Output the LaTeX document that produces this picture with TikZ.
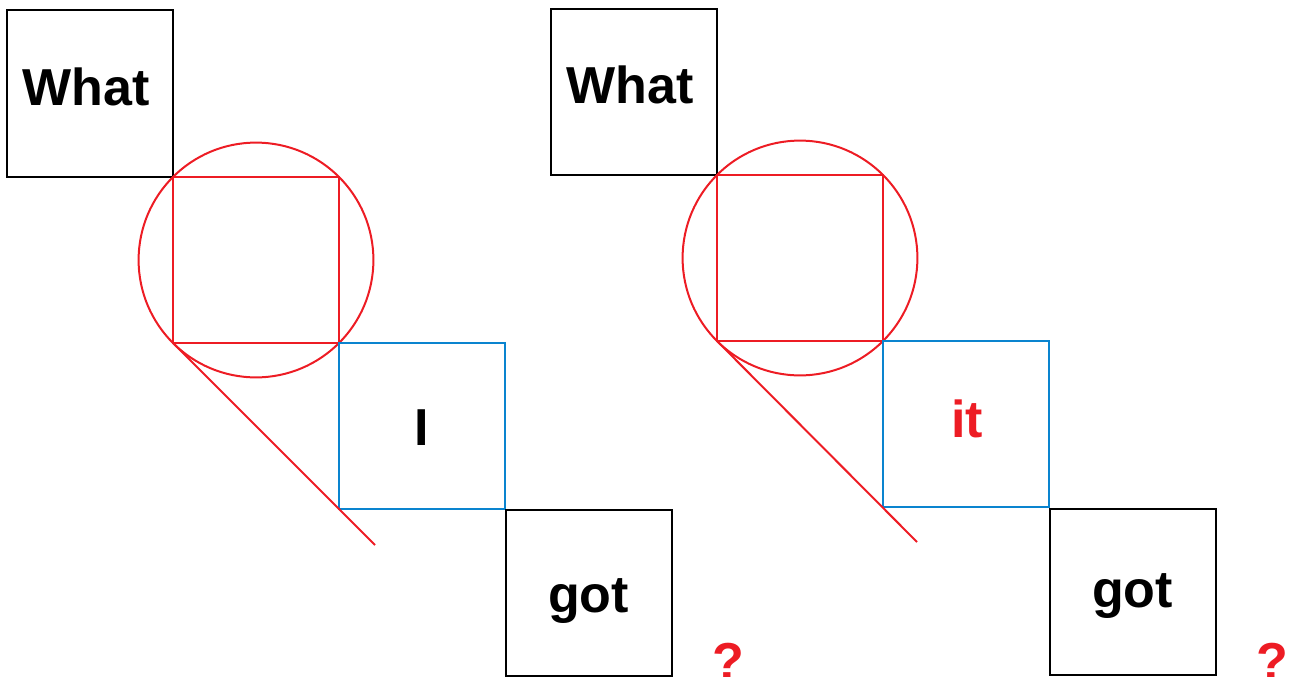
\documentclass[tikz,border=0pt]{standalone}
\usepackage{fontspec}
\setmainfont{Liberation Sans}
\definecolor{markred}{RGB}{237,28,36}
\definecolor{slotblue}{RGB}{10,132,207}
\begin{document}
\begin{tikzpicture}[x=1pt,y=-1pt,
    word/.style={font=\bfseries\fontsize{52}{52}\selectfont,inner sep=0pt,anchor=base},
    wordbox/.style={draw,line width=2pt,minimum size=166pt,inner sep=0pt,outer sep=0pt},
    gapbox/.style={wordbox,draw=markred},
    slotbox/.style={wordbox,draw=slotblue},
    ring/.style={circle,draw=markred,line width=2pt,minimum size=234.8pt,inner sep=0pt,outer sep=0pt},
    redline/.style={markred,line width=2pt}]
  \useasboundingbox (0,0) rectangle (1301,677);
  \node[wordbox] (what1) at (89.5,93.5) {};
  \node[word] (whatw1) at (86,106) {What};
  \node[gapbox] (gap1) at (256,260) {};
  \node[ring] (ring1) at (gap1) {};
  \node[slotbox] (slot1) at (422,426) {};
  \node[word] (slotw1) at (422,445) {I};
  \node[wordbox] (got1) at (589,593) {};
  \node[word] (gotw1) at (588.5,612) {got};
  \coordinate (tail1) at (375,545);
  \draw[redline] (gap1.south west) -- (tail1);
  \node[word,text=markred] (qm1) at (728,679) {?};
  \node[wordbox] (what2) at (633.5,92) {};
  \node[word] (whatw2) at (630,103) {What};
  \node[gapbox] (gap2) at (800,258) {};
  \node[ring] (ring2) at (gap2) {};
  \node[slotbox] (slot2) at (966,424) {};
  \node[word,text=markred] (slotw2) at (967,437) {it};
  \node[wordbox] (got2) at (1132.5,591.5) {};
  \node[word] (gotw2) at (1132.5,607) {got};
  \coordinate (tail2) at (917,542);
  \draw[redline] (gap2.south west) -- (tail2);
  \node[word,text=markred] (qm2) at (1272,679) {?};
\end{tikzpicture}
\end{document}
